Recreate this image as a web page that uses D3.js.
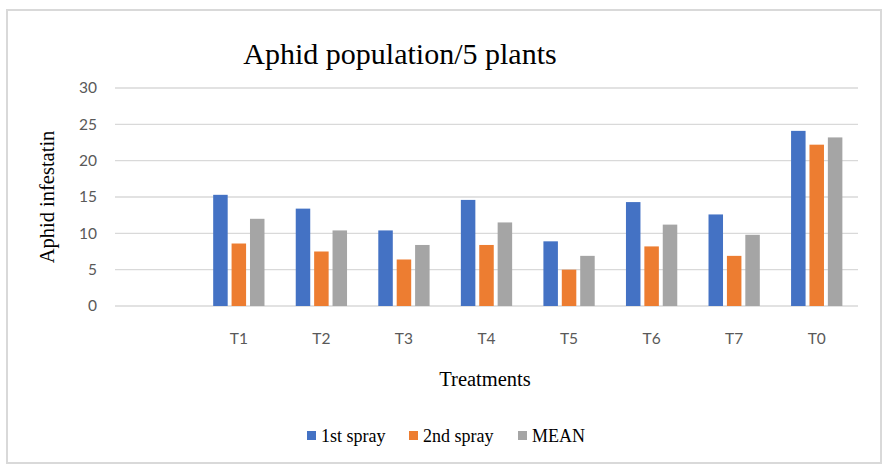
<!DOCTYPE html>
<html>
<head>
<meta charset="utf-8">
<script src="https://cdn.jsdelivr.net/npm/d3@7"></script>
<style>
  html, body { margin: 0; padding: 0; background: #fff; }
  svg { display: block; }
</style>
</head>
<body>
<svg id="chart" width="883" height="465"></svg>
<script>
const categories = ["", "T1", "T2", "T3", "T4", "T5", "T6", "T7", "T0"];
const seriesNames = ["1st spray", "2nd spray", "MEAN"];
const spray1 = [null, 15.3, 13.4, 10.4, 14.6, 8.9, 14.3, 12.6, 24.1];
const spray2 = [null, 8.6, 7.5, 6.4, 8.4, 5.0, 8.2, 6.9, 22.2];
const meanVals = [null, 12.0, 10.4, 8.4, 11.5, 6.9, 11.2, 9.8, 23.2];
const yTicks = [0, 5, 10, 15, 20, 25, 30];
const colors = ["#4472C4", "#ED7D31", "#A5A5A5"];

const svg = d3.select("#chart");

// frame
svg.append("rect").attr("x", 7).attr("y", 10).attr("width", 874).attr("height", 453)
  .attr("fill", "#fff").attr("stroke", "#d9d9d9").attr("stroke-width", 2);

const plot = { left: 115, right: 858, top: 88, bottom: 306 };

const x = d3.scaleBand().domain(categories.map((c, i) => i)).range([plot.left, plot.right]);
const y = d3.scaleLinear().domain([0, 30]).range([plot.bottom, plot.top]);

// gridlines
svg.append("g").selectAll("line").data(yTicks).join("line")
  .attr("x1", plot.left).attr("x2", plot.right)
  .attr("y1", d => y(d)).attr("y2", d => y(d))
  .attr("stroke", "#d9d9d9").attr("stroke-width", 1.3);

// y tick labels
svg.append("g").selectAll("text").data(yTicks).join("text")
  .attr("x", 97).attr("y", d => y(d)).attr("dy", "0.35em")
  .attr("text-anchor", "end")
  .attr("font-family", "Lato, 'Open Sans', sans-serif").attr("font-size", 15.5)
  .attr("fill", "#595959").text(d => d);

// bars
const bw = x.bandwidth();
const barW = 14.5;
const innerGap = 3.9;
const groupW = 3 * barW + 2 * innerGap;
const series = [spray1, spray2, meanVals];
series.forEach((vals, si) => {
  svg.append("g").selectAll("rect").data(vals.map((v, i) => ({ v, i })).filter(d => d.v != null)).join("rect")
    .attr("x", d => x(d.i) + (bw - groupW) / 2 + si * (barW + innerGap))
    .attr("width", barW)
    .attr("y", d => y(d.v))
    .attr("height", d => y(0) - y(d.v))
    .attr("fill", colors[si]);
});

// x category labels
svg.append("g").selectAll("text").data(categories.map((c, i) => ({ c, i }))).join("text")
  .attr("x", d => x(d.i) + bw / 2).attr("y", 344)
  .attr("text-anchor", "middle")
  .attr("font-family", "Lato, 'Open Sans', sans-serif").attr("font-size", 15.5)
  .attr("fill", "#595959").text(d => d.c);

// title
svg.append("text").attr("x", 400).attr("y", 64).attr("text-anchor", "middle")
  .attr("font-family", "'Liberation Serif', 'Times New Roman', serif").attr("font-size", 30)
  .attr("fill", "#000").text("Aphid population/5 plants");

// y axis title
svg.append("text").attr("transform", "translate(54,197) rotate(-90)")
  .attr("text-anchor", "middle")
  .attr("font-family", "'Liberation Serif', 'Times New Roman', serif").attr("font-size", 20.5)
  .attr("fill", "#000").text("Aphid infestatin");

// x axis title
svg.append("text").attr("x", 485).attr("y", 386).attr("text-anchor", "middle")
  .attr("font-family", "'Liberation Serif', 'Times New Roman', serif").attr("font-size", 20.5)
  .attr("fill", "#000").text("Treatments");

// legend
const legendItems = [
  { name: seriesNames[0], x: 307 },
  { name: seriesNames[1], x: 409 },
  { name: seriesNames[2], x: 518 }
];
const lg = svg.append("g");
legendItems.forEach((d, i) => {
  lg.append("rect").attr("x", d.x).attr("y", 431).attr("width", 9).attr("height", 9).attr("fill", colors[i]);
  lg.append("text").attr("x", d.x + 14).attr("y", 442)
    .attr("font-family", "'Liberation Serif', 'Times New Roman', serif").attr("font-size", 18)
    .attr("fill", "#000").text(d.name);
});
</script>
</body>
</html>
